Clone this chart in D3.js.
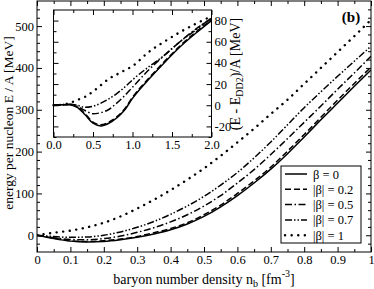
<!DOCTYPE html>
<html><head><meta charset="utf-8">
<script src="https://cdn.jsdelivr.net/npm/d3@7"></script>
<style>
html,body{margin:0;padding:0;background:#fff;}
svg text{font-family:"Liberation Serif","DejaVu Serif","Times New Roman",serif !important;}
</style></head>
<body><svg id="c" width="374" height="289"></svg>
<script>
// ---------- data ----------
const density = [0,0.05,0.1,0.15,0.2,0.25,0.3,0.35,0.4,0.45,0.5,0.55,0.6,0.65,0.7,0.75,0.8,0.85,0.9,0.95,1.0];
const beta0   = [0,-8,-14,-16,-15,-11,-5,3,13,27,45,68,95,125,158,195,235,276,316,356,395];
const beta02  = [0,-7,-13,-15,-13,-9,-3,6,16,30,49,72,100,130,163,201,241,282,323,363,402];
const beta05  = [0,-6,-10,-11,-8,-2,7,18,32,49,70,95,125,157,193,231,270,309,349,388,428];
const beta07  = [0,-3,-5,-4,0,8,19,33,50,70,93,120,150,185,223,264,305,343,380,416,452];
const beta1   = [0,6,11,19,30,45,64,85,108,133,160,190,222,255,290,324,362,400,438,476,515];

const insetX     = [0,0.1,0.2,0.3,0.4,0.5,0.6,0.7,0.8,0.9,1.0,1.2,1.4,1.6,1.8,2.0];
const insetB0    = [0,0.5,0.5,-2,-9,-17,-19.5,-17,-12,-4.5,6.5,24,40,55,68,80];
const insetB02   = [0,0.5,0.5,-1.5,-8,-16,-18.5,-16,-11,-3.5,7.5,25,41,56,69,81];
const insetB05   = [0,0.5,1,-1,-5,-8,-7,-4,2,9,17,33,47,60,72,82];
const insetB07   = [0,0.5,1,0,-2,-1,2,6,11,17,24,36,47,60,71,83];
const insetB1    = [0,0.5,2,5,8,13,19,25,29,33,37,50,60,69,77,84];

const legendLabels = ["β = 0","|β| = 0.2","|β| = 0.5","|β| = 0.7","|β| = 1"];
const dashes = [null,"6,3","7,2.5,1.5,2.5","7,2,1.5,2,1.5,2","0.1,6.5"];

const xTicks = [0,0.1,0.2,0.3,0.4,0.5,0.6,0.7,0.8,0.9,1];
const xTickLabels = ["0","0.1","0.2","0.3","0.4","0.5","0.6","0.7","0.8","0.9","1"];
const yTicks = [0,100,200,300,400,500];
const insetXTicks = [0,0.5,1,1.5,2];
const insetXTickLabels = ["0.0","0.5","1.0","1.5","2.0"];
const insetYTicks = [-20,0,20,40,60,80];

// ---------- drawing ----------
const FONT = "'Liberation Serif','DejaVu Serif',serif";
const svg = d3.select("#c").attr("font-family",FONT);
const x = d3.scaleLinear().domain([0,1]).range([37,371]);
const y = d3.scaleLinear().domain([-40,560]).range([252,1]);
const xi = d3.scaleLinear().domain([0,2]).range([53.5,211.5]);
const yi = d3.scaleLinear().domain([-30,90]).range([137,10]);

svg.append("defs").append("clipPath").attr("id","cp").append("rect")
  .attr("x",37).attr("y",1).attr("width",334).attr("height",251);

function axes(g, xs, ys, xt, xtl, yt, xMinor, yMinor, labelsLeft, labelsBottom){
  const [x0,x1]=xs.range(), [y0,y1]=ys.range();
  g.append("g").attr("transform",`translate(0,${y0})`)
    .call(d3.axisBottom(xs).tickValues(xt).tickSize(-5).tickPadding(labelsBottom?3:0)
      .tickFormat((d,i)=>labelsBottom?xtl[i]:""));
  g.append("g").attr("transform",`translate(0,${y0})`)
    .call(d3.axisBottom(xs).tickValues(xMinor).tickSize(-3).tickFormat(""));
  g.append("g").attr("transform",`translate(0,${y1})`)
    .call(d3.axisTop(xs).tickValues(xt).tickSize(-5).tickFormat(""));
  g.append("g").attr("transform",`translate(0,${y1})`)
    .call(d3.axisTop(xs).tickValues(xMinor).tickSize(-3).tickFormat(""));
  g.append("g").attr("transform",`translate(${x0},0)`)
    .call(d3.axisLeft(ys).tickValues(yt).tickSize(-5).tickPadding(labelsLeft?3:0)
      .tickFormat(d=>labelsLeft?d:""));
  g.append("g").attr("transform",`translate(${x0},0)`)
    .call(d3.axisLeft(ys).tickValues(yMinor).tickSize(-3).tickFormat(""));
  g.append("g").attr("transform",`translate(${x1},0)`)
    .call(d3.axisRight(ys).tickValues(yt).tickSize(-5).tickPadding(labelsLeft?0:3)
      .tickFormat(d=>labelsLeft?"":d));
  g.append("g").attr("transform",`translate(${x1},0)`)
    .call(d3.axisRight(ys).tickValues(yMinor).tickSize(-3).tickFormat(""));
  g.selectAll(".domain").remove();
  g.selectAll("g").attr("font-family",FONT);
  g.selectAll("text").attr("font-family",FONT).attr("font-size",12.5).attr("fill","#000");
  g.selectAll("line").attr("stroke","#000");
  g.append("rect").attr("x",x0).attr("y",y1).attr("width",x1-x0).attr("height",y0-y1)
    .attr("fill","none").attr("stroke","#000").attr("stroke-width",1);
}

const mainG = svg.append("g");
const xMinor = d3.range(0.05,1,0.1);
const yMinor = d3.range(-20,560,20).filter(v=>v%100!==0);
axes(mainG, x, y, xTicks, xTickLabels, yTicks, xMinor, yMinor, true, true);

function styleLine(sel,k){
  sel.attr("fill","none").attr("stroke","#000")
    .attr("stroke-width",k===4?2.4:1.5).attr("stroke-dasharray",dashes[k])
    .attr("stroke-linecap",k===4?"round":"butt");
}

const series = [beta0,beta02,beta05,beta07,beta1];
const line = d3.line().x((d,i)=>x(density[i])).y(d=>y(d)).curve(d3.curveMonotoneX);
const cg = svg.append("g").attr("clip-path","url(#cp)");
series.forEach((s,k)=>{ styleLine(cg.append("path").attr("d",line(s)),k); });

const ig = svg.append("g");
ig.append("rect").attr("x",53.5).attr("y",10).attr("width",158).attr("height",127).attr("fill","#fff");
const iline = d3.line().x((d,i)=>xi(insetX[i])).y(d=>yi(d)).curve(d3.curveMonotoneX);
[insetB0,insetB02,insetB05,insetB07,insetB1].forEach((s,k)=>{
  styleLine(ig.append("path").attr("d",iline(s)),k);
});
axes(ig, xi, yi, insetXTicks, insetXTickLabels, insetYTicks,
  [0.25,0.75,1.25,1.75], [-30,-10,10,30,50,70], false, true);

svg.append("text").attr("transform","translate(13,123) rotate(-90)")
  .attr("text-anchor","middle").attr("font-size",13.5).text("energy per nucleon E / A [MeV]");
const xt = svg.append("text").attr("x",204).attr("y",284).attr("text-anchor","middle").attr("font-size",14);
xt.append("tspan").text("baryon number density n");
xt.append("tspan").attr("font-size",10).attr("dy",3).text("b");
xt.append("tspan").attr("dy",-3).text(" [fm");
xt.append("tspan").attr("font-size",10).attr("dy",-7).text("-3");
xt.append("tspan").attr("dy",7).text("]");

const it = svg.append("text").attr("transform","translate(240,74) rotate(-90)")
  .attr("text-anchor","middle").attr("font-size",14);
it.append("tspan").text("(E - E");
it.append("tspan").attr("font-size",10).attr("dy",3).text("DD2");
it.append("tspan").attr("dy",-3).text(")/A [MeV]");

svg.append("text").attr("x",351).attr("y",22).attr("text-anchor","middle")
  .attr("font-weight","bold").attr("font-size",15).text("(b)");

const lg = svg.append("g");
lg.append("rect").attr("x",281).attr("y",166).attr("width",80).attr("height",77)
  .attr("fill","#fff").attr("stroke","#000").attr("stroke-width",1);
legendLabels.forEach((t,k)=>{
  const yy = 174 + k*15.3;
  styleLine(lg.append("line").attr("x1",285).attr("x2",307).attr("y1",yy).attr("y2",yy),k);
  lg.append("text").attr("x",313).attr("y",yy+4.5).attr("font-size",12.5).text(t);
});
</script></body></html>
